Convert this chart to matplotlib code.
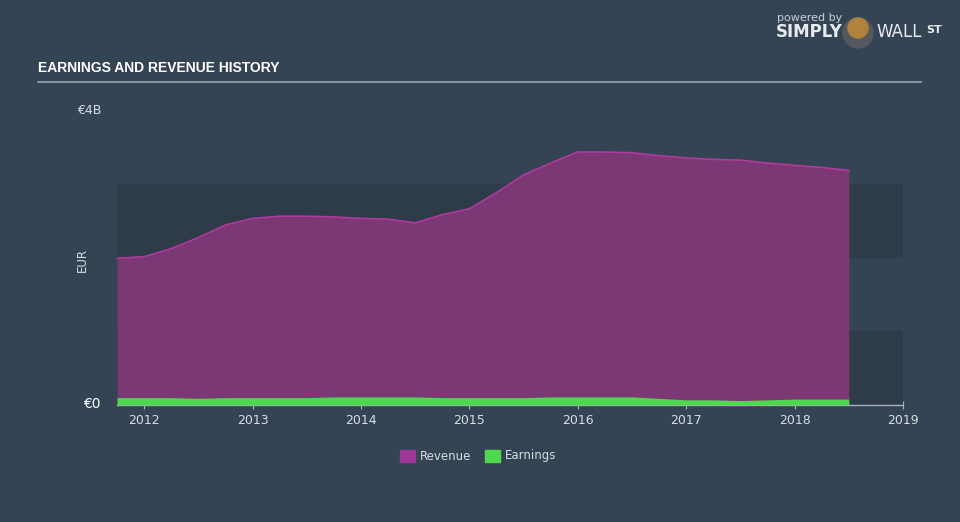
import matplotlib.pyplot as plt
from matplotlib.patches import Rectangle, Ellipse

# quarterly history, EUR billions
years = [2011.75, 2012.0, 2012.25, 2012.5, 2012.75, 2013.0, 2013.25, 2013.5, 2013.75,
         2014.0, 2014.25, 2014.5, 2014.75, 2015.0, 2015.25, 2015.5, 2015.75, 2016.0,
         2016.25, 2016.5, 2016.75, 2017.0, 2017.25, 2017.5, 2017.75, 2018.0, 2018.25, 2018.5]
revenue = [1.99, 2.01, 2.12, 2.27, 2.44, 2.53, 2.56, 2.56, 2.55,
           2.53, 2.52, 2.47, 2.58, 2.66, 2.88, 3.12, 3.28, 3.43,
           3.43, 3.42, 3.38, 3.35, 3.33, 3.32, 3.28, 3.25, 3.22, 3.18]
earnings = [0.10, 0.10, 0.10, 0.09, 0.10, 0.10, 0.10, 0.10, 0.11,
            0.11, 0.11, 0.11, 0.10, 0.10, 0.10, 0.10, 0.11, 0.11,
            0.11, 0.11, 0.09, 0.07, 0.07, 0.06, 0.07, 0.08, 0.08, 0.08]
year_ticks = [2012, 2013, 2014, 2015, 2016, 2017, 2018, 2019]

BG = '#344454'
BAND = '#2e3c4a'
REV_FILL = '#7b3874'
REV_LINE = '#b23a9c'
EARN = '#4fd84f'
TXT = '#d8dde2'

fig = plt.figure(figsize=(9.6, 5.22), dpi=100, facecolor=BG)
ax = fig.add_axes([117 / 960, (522 - 405) / 522, (903 - 117) / 960, (405 - 110) / 522])
ax.set_facecolor(BG)
ax.set_xlim(2011.75, 2019.0)
ax.set_ylim(0, 4)

# alternating bands
for lo in (0, 2):
    ax.add_patch(Rectangle((2011.75, lo), 2019.0 - 2011.75, 1, color=BAND, zorder=0, lw=0))

ax.fill_between(years, 0, revenue, color=REV_FILL, lw=0, zorder=2)
ax.plot(years, revenue, color=REV_LINE, lw=1.2, zorder=3)
ax.fill_between(years, 0, earnings, color=EARN, lw=0, zorder=4)

for s in ('top', 'right', 'left'):
    ax.spines[s].set_visible(False)
ax.spines['bottom'].set_color('#aab2bb')
ax.spines['bottom'].set_linewidth(1)
ax.set_xticks(year_ticks)
ax.set_xticklabels([str(y) for y in year_ticks])
ax.tick_params(axis='x', colors='#aab2bb', labelcolor=TXT, labelsize=9, length=6, direction='inout')
ax.set_yticks([])

fig.text(101 / 960, 1 - 110 / 522, '€4B', color=TXT, fontsize=9, ha='right', va='center')
fig.text(101 / 960, 1 - 404 / 522, '€0', color='white', fontsize=10, ha='right', va='center')
fig.text(82 / 960, 1 - 260 / 522, 'EUR', color=TXT, fontsize=8.5, rotation=90, ha='center', va='center')

fig.text(38 / 960, 1 - 68 / 522, 'EARNINGS AND REVENUE HISTORY', color='white', fontsize=10,
         fontweight='bold', family=['Liberation Sans Narrow', 'Liberation Sans', 'DejaVu Sans'],
         va='center')
fig.add_artist(plt.Line2D([38 / 960, 921 / 960], [1 - 82 / 522, 1 - 82 / 522], color='#9aa3ad', lw=1.2))

# logo
fig.text(777 / 960, 1 - 18 / 522, 'powered by', color='#c9ced4', fontsize=8, va='center')
fig.text(776 / 960, 1 - 32 / 522, 'SIMPLY', color='#e8ebee', fontsize=12, fontweight='bold', va='center')
fig.text(876 / 960, 1 - 32 / 522, 'WALL', color='#e8ebee', fontsize=12, va='center')
fig.text(926 / 960, 1 - 30 / 522, 'ST', color='#e8ebee', fontsize=8, fontweight='bold', va='center')
fig.add_artist(Ellipse((858 / 960, 1 - 33 / 522), 30 / 960, 30 / 522, transform=fig.transFigure,
                       color='#55585c', zorder=5))
fig.add_artist(Ellipse((858 / 960, 1 - 28 / 522), 20 / 960, 20 / 522, transform=fig.transFigure,
                       color='#b0823c', zorder=6))

# legend
fig.add_artist(Rectangle((400 / 960, 1 - 462 / 522), 15 / 960, 12 / 522, color='#a0389a', transform=fig.transFigure))
fig.text(420 / 960, 1 - 456 / 522, 'Revenue', color=TXT, fontsize=8.5, va='center')
fig.add_artist(Rectangle((485 / 960, 1 - 462 / 522), 15 / 960, 12 / 522, color=EARN, transform=fig.transFigure))
fig.text(505 / 960, 1 - 456 / 522, 'Earnings', color=TXT, fontsize=8.5, va='center')

fig.savefig('out.png', dpi=100, facecolor=BG)
